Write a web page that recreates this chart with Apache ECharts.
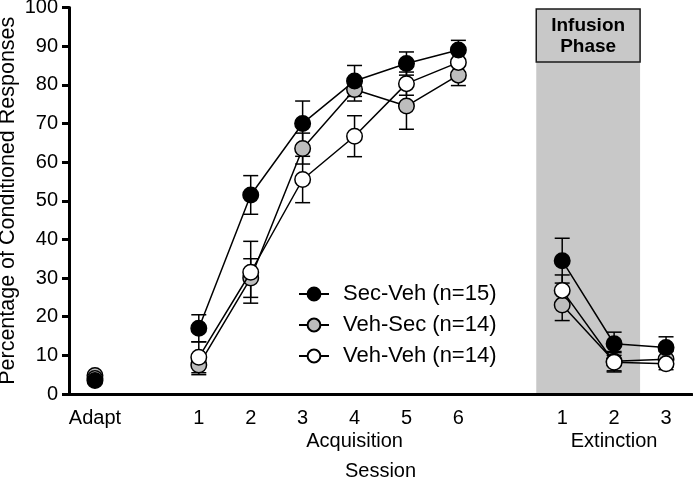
<!DOCTYPE html>
<html>
<head>
<meta charset="utf-8">
<script src="https://cdn.jsdelivr.net/npm/echarts@6/dist/echarts.min.js"></script>
<style>html,body{margin:0;padding:0;background:#fff}#c{width:693px;height:479px}</style>
</head>
<body>
<div id="c"></div>
<script>
// Category slots: Adapt, gap, Acquisition 1-6, gap, Extinction 1-3
const categories = ['Adapt', '', '1', '2', '3', '4', '5', '6', '', '1', '2', '3'];
const groupLabels = ['', '', '', '', '', 'Acquisition', '', '', '', '', 'Extinction', ''];
const yTicks = [0, 10, 20, 30, 40, 50, 60, 70, 80, 90, 100];

const secVehName = 'Sec-Veh (n=15)';
const vehSecName = 'Veh-Sec (n=14)';
const vehVehName = 'Veh-Veh (n=14)';

const secVeh    = [3.5, null, 17.0, 51.5, 70.0, 81.0, 85.5, 89.0, null, 34.5, 13.0, 12.0];
const secVehErr = [0,   null, 3.5,  5.0,  5.8,  4.0,  3.0,  2.5,  null, 5.8,  3.0,  2.8];
const vehSec    = [4.8, null, 7.5,  30.0, 63.5, 78.8, 74.5, 82.5, null, 23.0, 8.5,  9.0];
const vehSecErr = [0,   null, 2.5,  5.0,  4.0,  3.0,  6.0,  2.7,  null, 4.0,  2.5,  2.0];
const vehVeh    = [4.0, null, 9.5,  31.5, 55.5, 66.7, 80.3, 85.8, null, 26.8, 8.2,  7.8];
const vehVehErr = [0,   null, 4.0,  8.0,  6.0,  5.3,  3.0,  2.5,  null, 4.0,  2.5,  1.5];

const infusionRange = [8.5, 10.5];
const infusionLabel = 'Infusion\nPhase';

const FONT = 'Liberation Sans, Arial, sans-serif';
const chart = echarts.init(document.getElementById('c'));

function errData(means, errs) {
  const out = [];
  means.forEach((m, i) => { if (m !== null && errs[i] > 0) out.push([i, m, errs[i]]); });
  return out;
}
function errSeries(means, errs, z) {
  return {
    type: 'custom', xAxisIndex: 0, yAxisIndex: 0, z: z, silent: true,
    data: errData(means, errs),
    renderItem: function (params, api) {
      const x = api.value(0), m = api.value(1), e = api.value(2);
      const top = api.coord([x, m + e]);
      const bot = api.coord([x, m - e]);
      const hw = 7.5;
      const st = { stroke: '#000', lineWidth: 1.5 };
      return { type: 'group', children: [
        { type: 'line', shape: { x1: top[0], y1: top[1], x2: bot[0], y2: bot[1] }, style: st },
        { type: 'line', shape: { x1: top[0] - hw, y1: top[1], x2: top[0] + hw, y2: top[1] }, style: st },
        { type: 'line', shape: { x1: bot[0] - hw, y1: bot[1], x2: bot[0] + hw, y2: bot[1] }, style: st }
      ]};
    }
  };
}
function lineSeries(name, data, fill, z) {
  return {
    name: name, type: 'line', xAxisIndex: 0, yAxisIndex: 0, z: z,
    data: data, connectNulls: false,
    symbol: 'circle', symbolSize: 15.5,
    lineStyle: { color: '#000', width: 1.5 },
    itemStyle: { color: fill, borderColor: '#000', borderWidth: 1.5 },
    emphasis: { disabled: true }
  };
}

chart.setOption({
  animation: false,
  grid: { left: 69, right: 1, top: 7.5, bottom: 85, containLabel: false, outerBoundsMode: 'none' },
  legend: {
    data: [secVehName, vehSecName, vehVehName],
    orient: 'vertical', left: 293, top: 278,
    itemWidth: 30, itemHeight: 16, itemGap: 9,
    textStyle: { fontFamily: FONT, fontSize: 22, color: '#000', lineHeight: 22, padding: [0, 0, 0, 9] }
  },
  xAxis: [
    {
      type: 'category', data: categories, boundaryGap: true, position: 'bottom',
      axisLine: { onZero: false, lineStyle: { color: '#000', width: 3 } },
      axisTick: { alignWithLabel: true, length: 7, lineStyle: { color: '#000', width: 3 },
        interval: function (i, v) { return v !== ''; } },
      axisLabel: { fontFamily: FONT, fontSize: 20, color: '#000', margin: 14, interval: 0 },
      splitLine: { show: false },
      name: 'Session', nameLocation: 'middle', nameGap: 67, nameMoveOverlap: false,
      nameTextStyle: { fontFamily: FONT, fontSize: 20, color: '#000' }
    },
    {
      type: 'value', min: -0.5, max: 11.5, show: false
    },
    {
      type: 'category', data: groupLabels, boundaryGap: true, position: 'bottom', offset: 28,
      axisLine: { show: false, onZero: false }, axisTick: { show: false },
      axisLabel: { fontFamily: FONT, fontSize: 20, color: '#000', margin: 9, interval: 0 },
      splitLine: { show: false }
    }
  ],
  yAxis: {
    type: 'value', min: yTicks[0], max: yTicks[yTicks.length - 1], interval: 10,
    axisLine: { show: true, onZero: false, lineStyle: { color: '#000', width: 3 } },
    axisTick: { show: true, length: 7, lineStyle: { color: '#000', width: 3 } },
    axisLabel: { fontFamily: FONT, fontSize: 20, color: '#000', margin: 11 },
    splitLine: { show: false },
    name: 'Percentage of Conditioned Responses', nameLocation: 'middle', nameGap: 50, nameRotate: 90,
    nameMoveOverlap: false,
    nameTextStyle: { fontFamily: FONT, fontSize: 21.5, color: '#000' }
  },
  series: [
    {
      type: 'custom', xAxisIndex: 1, yAxisIndex: 0, z: 0, silent: true,
      data: [infusionRange],
      encode: { x: [0, 1], y: [] },
      renderItem: function (params, api) {
        const p1 = api.coord([api.value(0), 100]);
        const p2 = api.coord([api.value(1), 0]);
        const x1 = p1[0], x2 = p2[0];
        const boxTop = p1[1] + 1.5, boxH = 53;
        return { type: 'group', children: [
          { type: 'rect', shape: { x: x1, y: boxTop + boxH, width: x2 - x1, height: p2[1] - boxTop - boxH },
            style: { fill: '#c8c8c8' } },
          { type: 'rect', shape: { x: x1, y: boxTop, width: x2 - x1, height: boxH },
            style: { fill: '#c8c8c8', stroke: '#1a1a1a', lineWidth: 1.5 } },
          { type: 'text', x: (x1 + x2) / 2, y: boxTop + boxH / 2 + 0.5,
            style: { text: infusionLabel, fontFamily: FONT, fontSize: 19, fontWeight: 'bold',
              fill: '#000', align: 'center', verticalAlign: 'middle', lineHeight: 21 } }
        ]};
      }
    },
    errSeries(vehSec, vehSecErr, 1),
    errSeries(vehVeh, vehVehErr, 1),
    errSeries(secVeh, secVehErr, 1),
    lineSeries(vehSecName, vehSec, '#bdbdbd', 2),
    lineSeries(vehVehName, vehVeh, '#ffffff', 3),
    lineSeries(secVehName, secVeh, '#000000', 4)
  ]
});
</script>
</body>
</html>
